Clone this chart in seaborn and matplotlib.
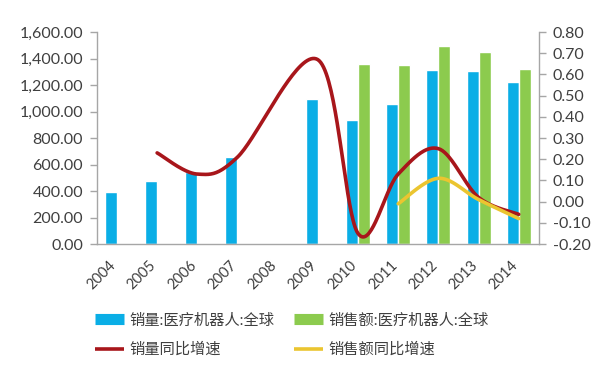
import numpy as np
import pandas as pd
import matplotlib
matplotlib.use("Agg")
import matplotlib.pyplot as plt
import matplotlib.transforms as mtrans
import seaborn as sns
from matplotlib.lines import Line2D
from matplotlib.ticker import FuncFormatter, FixedLocator

years = ["2004", "2005", "2006", "2007", "2008", "2009", "2010", "2011", "2012", "2013", "2014"]
sales_volume = [390, 475, 540, 655, np.nan, 1095, 940, 1060, 1315, 1305, 1225]
sales_amount = [np.nan, np.nan, np.nan, np.nan, np.nan, np.nan, 1360, 1355, 1495, 1450, 1325]
volume_growth = [np.nan, 0.23, 0.13, 0.21, np.nan, 0.67, -0.15, 0.13, 0.25, 0.02, -0.06]
amount_growth = [np.nan, np.nan, np.nan, np.nan, np.nan, np.nan, np.nan, -0.01, 0.11, 0.01, -0.08]

label_vol = "销量:医疗机器人:全球"
label_amt = "销售额:医疗机器人:全球"
label_vg = "销量同比增速"
label_ag = "销售额同比增速"

c_blue = "#0AAEE6"
c_green = "#8CCB4E"
c_red = "#A8161B"
c_yellow = "#EBC530"
c_text = "#3F3F3F"
c_axis = "#A6A6A6"

sns.set_theme(style="white")
plt.rcParams["font.family"] = ["Lato", "Noto Sans CJK SC", "DejaVu Sans"]

df = pd.DataFrame({
    "year": years * 2,
    "value": sales_volume + sales_amount,
    "series": [label_vol] * len(years) + [label_amt] * len(years),
})

fig = plt.figure(figsize=(6.13, 3.65), dpi=100)
ax = fig.add_axes([0.158, 0.3315, 0.721, 0.5805])
sns.barplot(data=df, x="year", y="value", hue="series", order=years,
            hue_order=[label_vol, label_amt], palette=[c_blue, c_green],
            width=0.6, dodge=True, ax=ax, legend=False, saturation=1)
ax.set_xlim(-0.5, len(years) - 0.5)
ax.set_ylim(0, 1600)
ax.set_yticks(np.arange(0, 1601, 200))
ax.yaxis.set_major_formatter(FuncFormatter(lambda v, p: f"{v:,.2f}"))
ax.set_xlabel("")
ax.set_ylabel("")

ax2 = ax.twinx()
ax2.set_ylim(-0.2, 0.8)
ax2.set_yticks(np.round(np.arange(-0.2, 0.81, 0.1), 2))
ax2.yaxis.set_major_formatter(FuncFormatter(lambda v, p: f"{v:.2f}"))


def smooth(xs, ys, n=40):
    # Excel-style smoothed line: connects the available points with Bezier segments
    pts = [(x, y) for x, y in zip(xs, ys) if not np.isnan(y)]
    P = np.array(pts, dtype=float)
    out = []
    for i in range(len(P) - 1):
        p0 = P[i - 1] if i > 0 else P[i]
        p1 = P[i]
        p2 = P[i + 1]
        p3 = P[i + 2] if i + 2 < len(P) else P[i + 1]
        b1 = p1 + (p2 - p0) / 6.0
        b2 = p2 - (p3 - p1) / 6.0
        t = np.linspace(0, 1, n)[:, None]
        seg = ((1 - t) ** 3) * p1 + 3 * ((1 - t) ** 2) * t * b1 + 3 * (1 - t) * t ** 2 * b2 + t ** 3 * p2
        out.append(seg if i == 0 else seg[1:])
    s = np.vstack(out)
    return s[:, 0], s[:, 1]


xpos = np.arange(len(years))
sx, sy = smooth(xpos, volume_growth)
sns.lineplot(x=sx, y=sy, ax=ax2, color=c_red, lw=2.6, sort=False, estimator=None)
sx, sy = smooth(xpos, amount_growth)
sns.lineplot(x=sx, y=sy, ax=ax2, color=c_yellow, lw=2.6, sort=False, estimator=None)

for a in (ax, ax2):
    a.spines["top"].set_visible(False)
    for s in ("left", "right", "bottom"):
        a.spines[s].set_color(c_axis)
        a.spines[s].set_linewidth(1.0)
    a.tick_params(axis="y", colors=c_axis, labelcolor=c_text, labelsize=11.5,
                  length=5, width=1, direction="out", pad=5)
ax.spines["right"].set_visible(False)
ax2.spines["left"].set_visible(False)
ax2.spines["bottom"].set_visible(False)

ax.set_xticks(xpos)
ax.set_xticklabels(years, rotation=45, ha="right", va="center", rotation_mode="anchor",
                   fontsize=10.5, color=c_text)
ax.tick_params(axis="x", which="major", length=0, pad=14)
shift = mtrans.ScaledTranslation(-3 / 100, 0, fig.dpi_scale_trans)
for lab in ax.get_xticklabels():
    lab.set_transform(lab.get_transform() + shift)
ax.xaxis.set_minor_locator(FixedLocator(np.arange(-0.5, len(years), 1.0)))
ax.tick_params(axis="x", which="minor", length=4, width=1, color=c_axis, direction="out")
ax.grid(False)
ax2.grid(False)

handles = [
    Line2D([0], [0], color=c_blue, lw=8, solid_capstyle="butt"),
    Line2D([0], [0], color=c_red, lw=2.6, solid_capstyle="butt"),
    Line2D([0], [0], color=c_green, lw=8, solid_capstyle="butt"),
    Line2D([0], [0], color=c_yellow, lw=2.6, solid_capstyle="butt"),
]
labels = [label_vol, label_vg, label_amt, label_ag]
leg = fig.legend(handles, labels, ncol=2, loc="upper left",
                 bbox_to_anchor=(0.155, 0.141),
                 frameon=False, fontsize=11, handlelength=1.9, handletextpad=0.33,
                 columnspacing=1.3, labelspacing=0.98, borderpad=0, borderaxespad=0)
for t in leg.get_texts():
    t.set_color(c_text)

fig.savefig("out.png", dpi=100)
